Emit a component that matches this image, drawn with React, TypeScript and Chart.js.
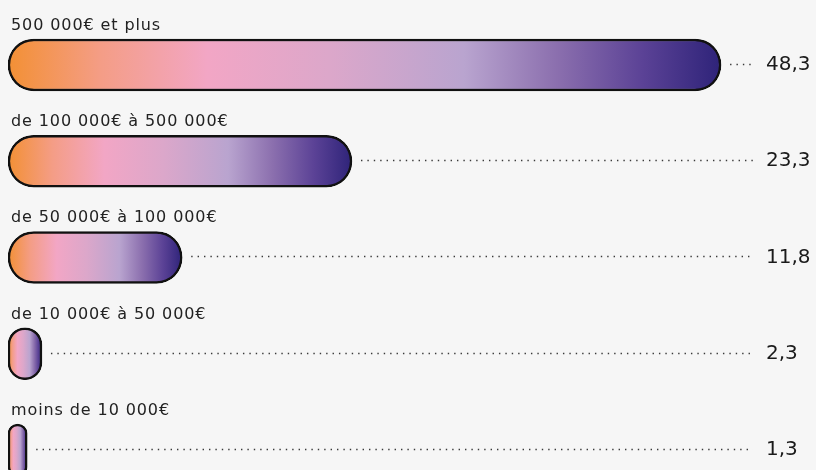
import React, { useEffect, useRef } from "react";
import { Chart, registerables } from "chart.js";

Chart.register(...registerables);

const categories = [
  "500 000€ et plus",
  "de 100 000€ à 500 000€",
  "de 50 000€ à 100 000€",
  "de 10 000€ à 50 000€",
  "moins de 10 000€",
];
const values = [48.3, 23.3, 11.8, 2.3, 1.3];
const valueLabels = ["48,3", "23,3", "11,8", "2,3", "1,3"];
const gradientStops: [number, string][] = [
  [0, "#f39034"],
  [0.13, "#f49d86"],
  [0.28, "#f2a6c5"],
  [0.45, "#dca7ca"],
  [0.64, "#b9a4cf"],
  [0.77, "#8b6fae"],
  [0.89, "#5b4296"],
  [1, "#2e2379"],
];

const FONT = '"DejaVu Sans", sans-serif';

const labelPlugin = {
  id: "rowLabels",
  afterDatasetsDraw(chart: any) {
    const { ctx } = chart;
    const xs = chart.scales.x;
    const ys = chart.scales.y;
    const dotsEnd = chart.width - 63;
    ctx.save();
    values.forEach((v, i) => {
      const yc = ys.getPixelForValue(i);
      const xEnd = xs.getPixelForValue(v);
      // category label above bar
      ctx.font = `16px ${FONT}`;
      (ctx as any).letterSpacing = "0.9px";
      ctx.fillStyle = "#222222";
      ctx.textAlign = "left";
      ctx.textBaseline = "alphabetic";
      ctx.fillText(categories[i], 11, yc - 35);
      (ctx as any).letterSpacing = "0px";
      // dotted leader
      const ly = Math.round(yc - 1) + 0.5;
      ctx.beginPath();
      ctx.setLineDash([1.4, 5]);
      ctx.lineWidth = 1.3;
      ctx.strokeStyle = "#3a3a3a";
      ctx.moveTo(xEnd + 9, ly);
      ctx.lineTo(dotsEnd, ly);
      ctx.stroke();
      ctx.setLineDash([]);
      // value
      ctx.font = `20px ${FONT}`;
      ctx.fillStyle = "#1a1a1a";
      ctx.textBaseline = "middle";
      ctx.fillText(valueLabels[i], 766, yc);
    });
    ctx.restore();
  },
};

export default function App() {
  const canvasRef = useRef<HTMLCanvasElement | null>(null);

  useEffect(() => {
    document.body.style.margin = "0";
    document.body.style.background = "#f6f6f6";
    const canvas = canvasRef.current;
    if (!canvas) return;
    const chart = new Chart(canvas, {
      type: "bar",
      data: {
        datasets: [
          {
            data: values.map((v, i) => ({ x: v, y: i })) as any,
            barThickness: 52,
            borderWidth: 2.5,
            borderColor: "#111111",
            borderSkipped: false,
            borderRadius: 26,
            backgroundColor: (c: any) => {
              const xs = c.chart.scales?.x;
              if (!xs || c.type !== "data") return gradientStops[0][1];
              const x0 = xs.getPixelForValue(0);
              const x1 = xs.getPixelForValue(values[c.dataIndex]);
              if (!Number.isFinite(x0) || !Number.isFinite(x1) || x1 <= x0) return gradientStops[2][1];
              const g = c.chart.ctx.createLinearGradient(x0, 0, x1, 0);
              gradientStops.forEach(([o, col]) => g.addColorStop(o, col));
              return g;
            },
          },
        ],
      },
      options: {
        indexAxis: "y",
        animation: false,
        responsive: false,
        events: [],
        layout: { padding: { left: 8, right: 0, top: 0, bottom: 0 } },
        plugins: {
          legend: { display: false },
          tooltip: { enabled: false },
        },
        scales: {
          x: { type: "linear", min: 0, max: 54.73, offset: false, display: false },
          y: { type: "linear", min: -0.675, max: 4.208, reverse: true, offset: false, display: false },
        },
      },
      plugins: [labelPlugin],
    });
    return () => chart.destroy();
  }, []);

  return (
    <div style={{ width: 816, height: 470, background: "#f6f6f6" }}>
      <canvas ref={canvasRef} width={816} height={470} style={{ display: "block" }} />
    </div>
  );
}
